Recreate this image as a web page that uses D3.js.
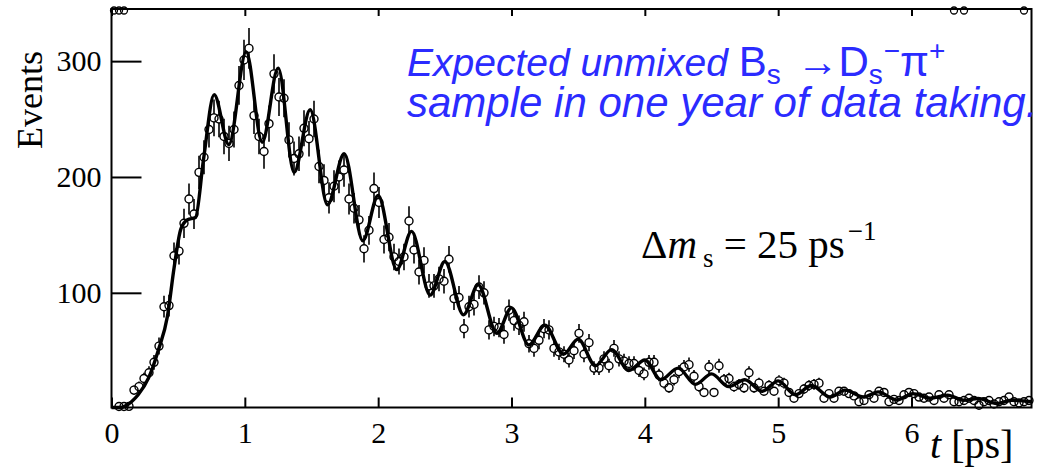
<!DOCTYPE html>
<html>
<head>
<meta charset="utf-8">
<script src="https://cdn.jsdelivr.net/npm/d3@7"></script>
<style>
  body { margin: 0; background: #fff; }
  svg { display: block; }
</style>
</head>
<body>
<svg id="chart" width="1052" height="469"></svg>
<script>
// Proper-time histogram: 184 bins of 0.0375 ps between 0 and 6.9 ps
const binWidth = 0.0375;
const counts = [
  0, 1, 1, 2, 16, 19, 26, 31, 40, 54,
  88, 89, 132, 136, 160, 181, 168, 204, 217, 241,
  251, 250, 235, 229, 241, 279, 301, 311, 253, 235,
  222, 246, 289, 269, 268, 232, 216, 220, 242, 233,
  250, 209, 197, 182, 192, 200, 206, 181, 173, 163,
  138, 154, 190, 178, 146, 148, 131, 127, 131, 162,
  137, 118, 128, 106, 106, 112, 110, 129, 95, 96,
  69, 88, 90, 105, 100, 68, 71, 70, 64, 85,
  76, 72, 75, 56, 52, 59, 69, 68, 52, 49,
  47, 42, 50, 65, 47, 57, 35, 35, 43, 37,
  52, 43, 41, 39, 39, 33, 30, 40, 40, 29,
  22, 18, 25, 32, 36, 38, 28, 19, 14, 36,
  14, 37, 25, 26, 19, 21, 18, 31, 18, 22,
  15, 20, 15, 24, 22, 14, 9, 13, 17, 20,
  21, 22, 9, 13, 9, 15, 15, 13, 11, 6,
  7, 12, 9, 15, 14, 6, 8, 7, 12, 14,
  13, 10, 9, 10, 7, 12, 9, 12, 6, 6,
  7, 9, 7, 3, 6, 7, 4, 6, 7, 10,
  6, 5, 6, 7
];

// Bins whose markers sit on the upper edge of the frame
const overflowBins = [0, 1, 2, 168, 170, 182];

// Fitted decay-time distribution (maxima, minima and shoulder knots)
const fitT = [0.0, 0.06, 0.10, 0.15, 0.20, 0.28, 0.35, 0.42, 0.47, 0.52, 0.57, 0.63, 0.69,
  0.77, 0.88, 1.01, 1.13, 1.25, 1.37, 1.49, 1.62, 1.745, 1.885, 2.0, 2.14, 2.25, 2.39,
  2.5, 2.64, 2.75, 2.89, 3.0, 3.13, 3.25, 3.39, 3.5, 3.63, 3.75, 3.88, 4.0, 4.12, 4.25,
  4.38, 4.5, 4.63, 4.75, 4.88, 5.0, 5.13, 5.25, 5.39, 5.5, 5.64, 5.75, 5.89, 6.01, 6.14,
  6.27, 6.39, 6.5, 6.64, 6.75, 6.9];
const fitV = [0, 0.5, 2, 6, 12, 27, 50, 80, 122, 155, 163, 165, 215,
  271, 228, 308, 230, 294, 204, 258, 176, 220, 145, 184, 120, 153, 98,
  127, 81, 107, 65, 87, 55, 72, 47, 60, 37, 51, 33, 42, 25, 35,
  21, 30, 19, 25, 15, 24, 12, 20, 10, 16, 10, 14.5, 7.5, 13, 9,
  11.7, 7.3, 8.8, 4.5, 7.3, 6];

const xMajor = [0, 1, 2, 3, 4, 5, 6];
const xMinor = d3.range(0, 35).map(i => +(i * 0.2).toFixed(1)).filter(v => v <= 6.9 && v % 1 !== 0);
const yMajor = [100, 200, 300];

const svg = d3.select("#chart");
const frame = { left: 111.5, right: 1031.5, top: 9, bottom: 407.5 };

const x = d3.scaleLinear().domain([0, 6.9]).range([frame.left, frame.right]);
const y = d3.scaleLinear().domain([1, 345]).range([frame.bottom, frame.top]);

const serif = "'Liberation Serif', 'Times New Roman', serif";
const sans = "'Liberation Sans', Arial, sans-serif";

svg.append("rect").attr("width", 1052).attr("height", 469).attr("fill", "#fff");

// Histogram points with Poisson error bars
const points = counts.map((c, i) => ({ t: (i + 0.5) * binWidth, c, e: Math.sqrt(c) }))
  .filter(d => d.c > 0);
const r = 4;

const gPts = svg.append("g");
points.forEach(d => {
  const cy = y(d.c), cx = x(d.t);
  const top = y(d.c + d.e), bot = Math.min(y(Math.max(d.c - d.e, 1)), frame.bottom);
  if (cy - r - top > 0.5) {
    gPts.append("line").attr("x1", cx).attr("x2", cx).attr("y1", top).attr("y2", cy - r)
      .attr("stroke", "#000").attr("stroke-width", 1.6);
  }
  if (bot - (cy + r) > 0.5) {
    gPts.append("line").attr("x1", cx).attr("x2", cx).attr("y1", cy + r).attr("y2", bot)
      .attr("stroke", "#000").attr("stroke-width", 1.6);
  }
});
gPts.selectAll("circle.pt").data(points).join("circle")
  .attr("class", "pt")
  .attr("cx", d => x(d.t)).attr("cy", d => Math.min(y(d.c), frame.bottom - 1))
  .attr("r", r).attr("fill", "none").attr("stroke", "#000").attr("stroke-width", 1.4);

// Markers pinned to the top edge
svg.append("g").selectAll("circle").data(overflowBins).join("circle")
  .attr("cx", k => x((k + 0.5) * binWidth)).attr("cy", frame.top + 1.5)
  .attr("r", 3.5).attr("fill", "none").attr("stroke", "#000").attr("stroke-width", 1.3);

// Fit curve
const fitData = fitT.map((t, i) => [t, fitV[i]]);
svg.append("path").datum(fitData)
  .attr("d", d3.line().x(d => x(d[0])).y(d => y(Math.max(d[1], 1))).curve(d3.curveMonotoneX))
  .attr("fill", "none").attr("stroke", "#000").attr("stroke-width", 3.4)
  .attr("stroke-linejoin", "round");

// Axes
const gx = svg.append("g").attr("transform", `translate(0,${frame.bottom})`);
gx.call(d3.axisBottom(x).tickValues(xMinor).tickSize(-5).tickFormat(""));
gx.call(d3.axisBottom(x).tickValues(xMajor).tickSize(-10).tickPadding(14).tickFormat(d3.format("d")));
gx.selectAll(".domain").remove();

const gxt = svg.append("g").attr("transform", `translate(0,${frame.top})`);
gxt.call(d3.axisTop(x).tickValues(xMinor).tickSize(-4).tickFormat(""));
gxt.call(d3.axisTop(x).tickValues(xMajor).tickSize(-7).tickFormat(""));
gxt.selectAll(".domain").remove();

const gy = svg.append("g").attr("transform", `translate(${frame.left},0)`);
gy.call(d3.axisLeft(y).tickValues(yMajor).tickSize(-30).tickPadding(10).tickFormat(d3.format("d")));
gy.selectAll(".domain").remove();

svg.selectAll(".tick line").attr("stroke", "#000").attr("stroke-width", 2);
svg.selectAll(".tick text").attr("font-family", serif).attr("font-size", 30).attr("fill", "#000");
gx.selectAll(".tick text").attr("dy", "0.71em");

svg.append("rect")
  .attr("x", frame.left).attr("y", frame.top)
  .attr("width", frame.right - frame.left).attr("height", frame.bottom - frame.top)
  .attr("fill", "none").attr("stroke", "#000").attr("stroke-width", 2);

// Axis titles
svg.append("text")
  .attr("transform", "translate(42,100) rotate(-90)")
  .attr("text-anchor", "middle")
  .attr("font-family", serif).attr("font-size", 36)
  .text("Events");

const xt = svg.append("text").attr("x", 930).attr("y", 458)
  .attr("font-family", serif).attr("font-size", 40);
xt.append("tspan").attr("font-style", "italic").text("t");
xt.append("tspan").text(" [ps]");

// Oscillation frequency label
const dm = svg.append("text").attr("x", 641).attr("y", 258)
  .attr("font-family", serif).attr("font-size", 41);
dm.append("tspan").text("Δ");
dm.append("tspan").attr("font-style", "italic").text("m");
dm.append("tspan").attr("font-size", 27).attr("dx", 6).attr("dy", 9).text("s");
dm.append("tspan").attr("dy", -9).text(" = 25 ps");
dm.append("tspan").attr("font-size", 27).attr("dx", 3).attr("dy", -18).text("−1");

// Annotation
const blue = "#2b2bff";
const l1 = svg.append("text").attr("x", 407).attr("y", 76)
  .attr("font-family", sans).attr("font-size", 42).attr("fill", blue);
l1.append("tspan").attr("font-style", "italic").attr("font-size", 39).text("Expected unmixed ");
l1.append("tspan").text("B");
l1.append("tspan").attr("font-size", 28).attr("dy", 8).text("s");
l1.append("tspan").attr("dy", -8).attr("dx", 4).text(" →D");
l1.append("tspan").attr("font-size", 28).attr("dy", 8).text("s");
l1.append("tspan").attr("font-size", 28).attr("dy", -24).attr("dx", 1).text("−");
l1.append("tspan").attr("dy", 16).text("π");
l1.append("tspan").attr("font-size", 28).attr("dy", -16).text("+");

svg.append("text").attr("x", 407).attr("y", 117)
  .attr("font-family", sans).attr("font-size", 42).attr("font-style", "italic").attr("fill", blue)
  .text("sample in one year of data taking.");
</script>
</body>
</html>
